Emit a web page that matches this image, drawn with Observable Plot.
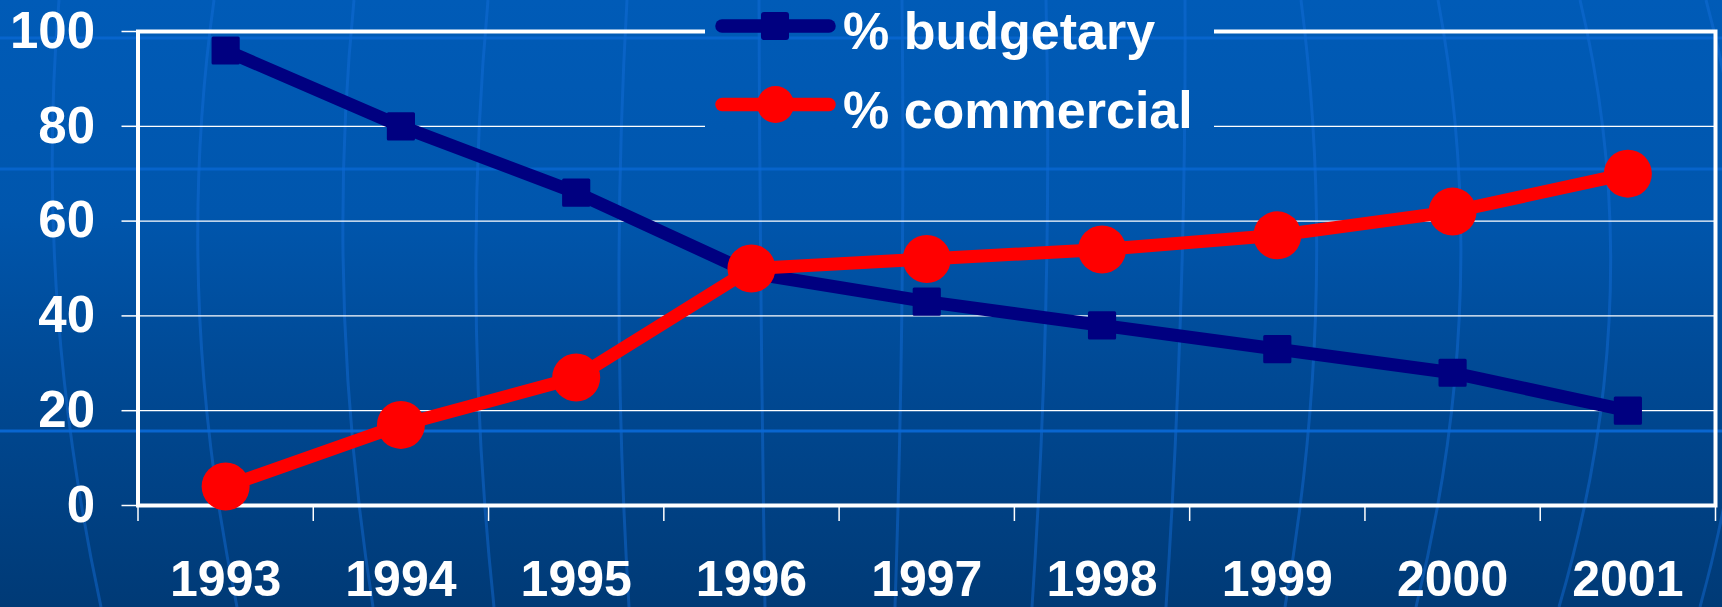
<!DOCTYPE html>
<html>
<head>
<meta charset="utf-8">
<script src="https://cdn.jsdelivr.net/npm/d3@7"></script>
<script src="https://cdn.jsdelivr.net/npm/@observablehq/plot@0.6"></script>
<style>
html, body { margin: 0; padding: 0; width: 1722px; height: 607px; overflow: hidden; }
#wrap { position: relative; width: 1722px; height: 607px; }
#chart { position: absolute; left: 0; top: 0; }
#legend { position: absolute; left: 705px; top: 0; width: 509px; height: 150px; }
.bg { background-attachment: fixed; background-repeat: no-repeat; background-size: 1722px 607px; }
</style>
</head>
<body class="bg">
<div id="wrap">
  <div id="chart"></div>
  <div id="legend" class="bg"></div>
</div>
<script>
// ---- data ----
const years = [1993, 1994, 1995, 1996, 1997, 1998, 1999, 2000, 2001];
const budgetary = [96, 80, 66, 49, 43, 38, 33, 28, 20];
const commercial = [4, 17, 27, 50, 52, 54, 57, 62, 70];
const yTicks = [0, 20, 40, 60, 80, 100];
const seriesNames = ["% budgetary", "% commercial"];
const seriesColors = ["#000080", "#ff0000"];

const FONT = "'Liberation Sans', Arial, Helvetica, sans-serif";

// ---- background (slide decoration: gradient + faint globe lines) ----
(function () {
  const merid = [[59,57,101],[214,199,237],[354,344,373],[488,476,494],[627,619,629],[759,761,765],
                 [902,902,895],[1046,1046,1032],[1185,1181,1166],[1301,1316,1285],[1438,1460,1416],
                 [1580,1610,1559],[1706,1745,1700]];
  let paths = merid.map(([a,m,b]) => {
    const cx = 2 * m - (a + b) / 2;
    return `<path d="M${a},0 Q${cx},296 ${b},607" fill="none" stroke="rgb(20,110,220)" stroke-opacity="0.45" stroke-width="3"/>`;
  }).join("");
  const hl = [[38,0.7],[169,0.7],[431,0.9]];
  paths += hl.map(([y,o]) => `<line x1="0" x2="1722" y1="${y}" y2="${y}" stroke="rgb(10,105,215)" stroke-opacity="${o}" stroke-width="3"/>`).join("");
  const svg = `<svg xmlns="http://www.w3.org/2000/svg" width="1722" height="607">${paths}</svg>`;
  const url = "url(\"data:image/svg+xml;charset=utf-8," + encodeURIComponent(svg) + "\")";
  const grad = "linear-gradient(to bottom, #005bb7 0%, #0056ad 35%, #004a96 60%, #003a76 100%)";
  document.querySelectorAll(".bg").forEach(el => {
    el.style.backgroundImage = url + ", " + grad;
  });
})();

// ---- chart ----
const bData = years.map((year, i) => ({year, value: budgetary[i]}));
const cData = years.map((year, i) => ({year, value: commercial[i]}));
const bounds = [...years.map(y => y - 0.5), years[years.length - 1] + 0.5];

const chart = Plot.plot({
  width: 1722,
  height: 607,
  marginLeft: 137.5,
  marginRight: 7,
  marginTop: 31,
  marginBottom: 102,
  style: {background: "transparent", color: "white", fontFamily: FONT, fontWeight: "bold", overflow: "visible"},
  x: {domain: [bounds[0], bounds[bounds.length - 1]]},
  y: {domain: [0, 100]},
  marks: [
    Plot.ruleY(yTicks.slice(1, -1), {stroke: "white", strokeWidth: 1.3}),
    Plot.frame({stroke: "white", strokeWidth: 4}),
    Plot.axisY({ticks: yTicks, tickSize: 16, tickPadding: 27, fontSize: 51, fontWeight: "bold", strokeWidth: 1.5, label: null}),
    Plot.axisX({ticks: years, tickSize: 0, tickPadding: 55, fontSize: 50, fontWeight: "bold", tickFormat: d => String(d), label: null}),
    Plot.axisX({ticks: bounds, tickSize: 16, tickFormat: () => "", strokeWidth: 1.5, label: null}),
    Plot.line(bData, {x: "year", y: "value", stroke: seriesColors[0], strokeWidth: 13}),
    Plot.dot(bData, {x: "year", y: "value", symbol: "square", r: 14.2, fill: seriesColors[0], stroke: seriesColors[0], strokeWidth: 3, strokeLinejoin: "round"}),
    Plot.line(cData, {x: "year", y: "value", stroke: seriesColors[1], strokeWidth: 13}),
    Plot.dot(cData, {x: "year", y: "value", r: 24, fill: seriesColors[1]})
  ]
});
document.getElementById("chart").appendChild(chart);

// ---- legend ----
const lg = d3.select("#legend").append("svg").attr("width", 509).attr("height", 150)
  .style("display", "block");
const rows = [{y: 26, ty: 49}, {y: 104.5, ty: 128}];
seriesNames.forEach((name, i) => {
  const r = rows[i];
  lg.append("line").attr("x1", 17).attr("x2", 124).attr("y1", r.y).attr("y2", r.y)
    .attr("stroke", seriesColors[i]).attr("stroke-width", 13.5).attr("stroke-linecap", "round");
  if (i === 0) {
    lg.append("rect").attr("x", 70 - 14).attr("y", r.y - 14).attr("width", 28).attr("height", 28)
      .attr("rx", 3).attr("fill", seriesColors[i]);
  } else {
    lg.append("circle").attr("cx", 70.5).attr("cy", r.y).attr("r", 18.5).attr("fill", seriesColors[i]);
  }
  lg.append("text").attr("x", 138).attr("y", r.ty).text(name)
    .attr("fill", "white").attr("font-family", FONT).attr("font-weight", "bold").attr("font-size", 52);
});
</script>
</body>
</html>
